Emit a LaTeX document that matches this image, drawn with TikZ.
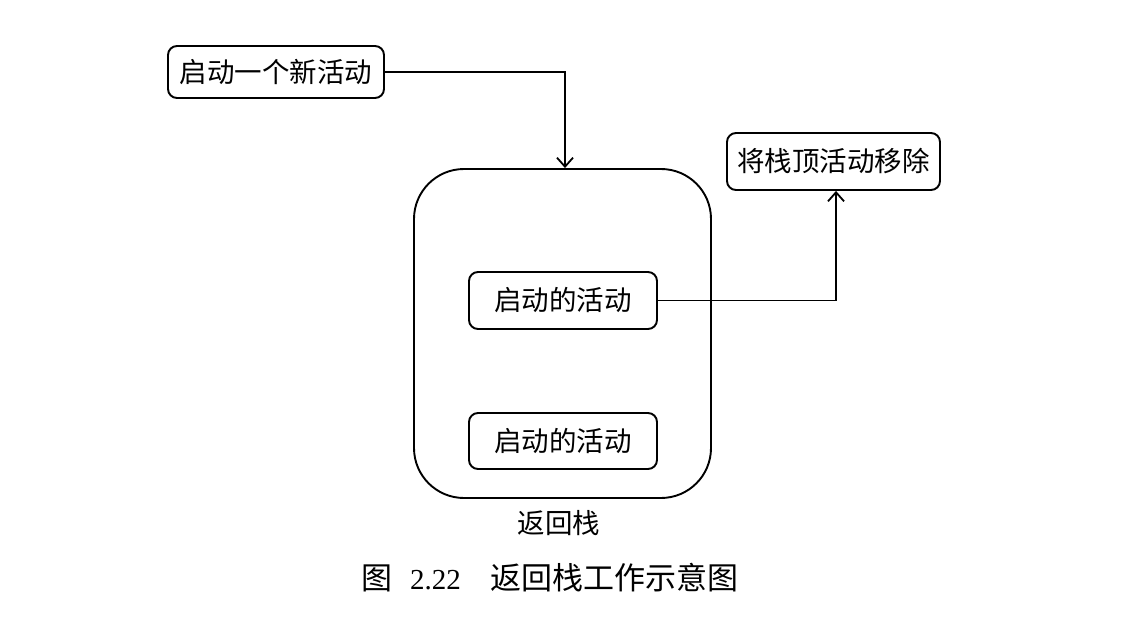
\documentclass[tikz,border=0pt]{standalone}
\usepackage{fontspec}
\setmainfont{Liberation Serif}
\newfontfamily\cjk{Noto Sans CJK SC}
\usetikzlibrary{arrows.meta}
\begin{document}
\begin{tikzpicture}[x=1pt,y=-1pt,
  box/.style={draw,line width=1.9pt,rounded corners=9pt,inner sep=0pt,font=\cjk\fontsize{27.5}{30}\selectfont},
  conn/.style={line width=1.9pt,-{Straight Barb[length=9pt,width=16pt,line width=1.8pt]}},
  lbl/.style={inner sep=0pt,font=\cjk\fontsize{27.5}{30}\selectfont}]
\useasboundingbox (0,0) rectangle (1124,631);
\fill[white] (0,0) rectangle (1124,631);
% nodes
\node[box,minimum width=216pt,minimum height=52pt] (new) at (276,72) {启动一个新活动};
\node[box,minimum width=213pt,minimum height=57pt] (pop) at (833.5,161.5) {将栈顶活动移除};
\node[draw,line width=1.9pt,rounded corners=50pt,minimum width=297pt,minimum height=329pt] (stack) at (562.5,333.5) {};
\node[box,minimum width=188pt,minimum height=57pt] (a1) at (563,300.5) {启动的活动};
\node[box,minimum width=188pt,minimum height=56pt] (a2) at (563,441) {启动的活动};
\node[lbl] (stacklbl) at (559,523) {返回栈};
\node[inner sep=0pt,font=\fontsize{29}{34}\selectfont,anchor=west] (cap) at (361,578) {{\cjk\fontsize{31}{34}\selectfont 图}\hspace{18pt}2.22\hspace{30pt}{\cjk\fontsize{31}{34}\selectfont 返回栈工作示意图}};
% connectors
\coordinate (c1) at (565,72);
\coordinate (c2) at (836,300.5);
\draw[conn] (new.east) -- (c1) -- (c1 |- stack.north);
\draw[conn] (a1.east) -- (c2) -- (c2 |- pop.south);
\end{tikzpicture}
\end{document}
